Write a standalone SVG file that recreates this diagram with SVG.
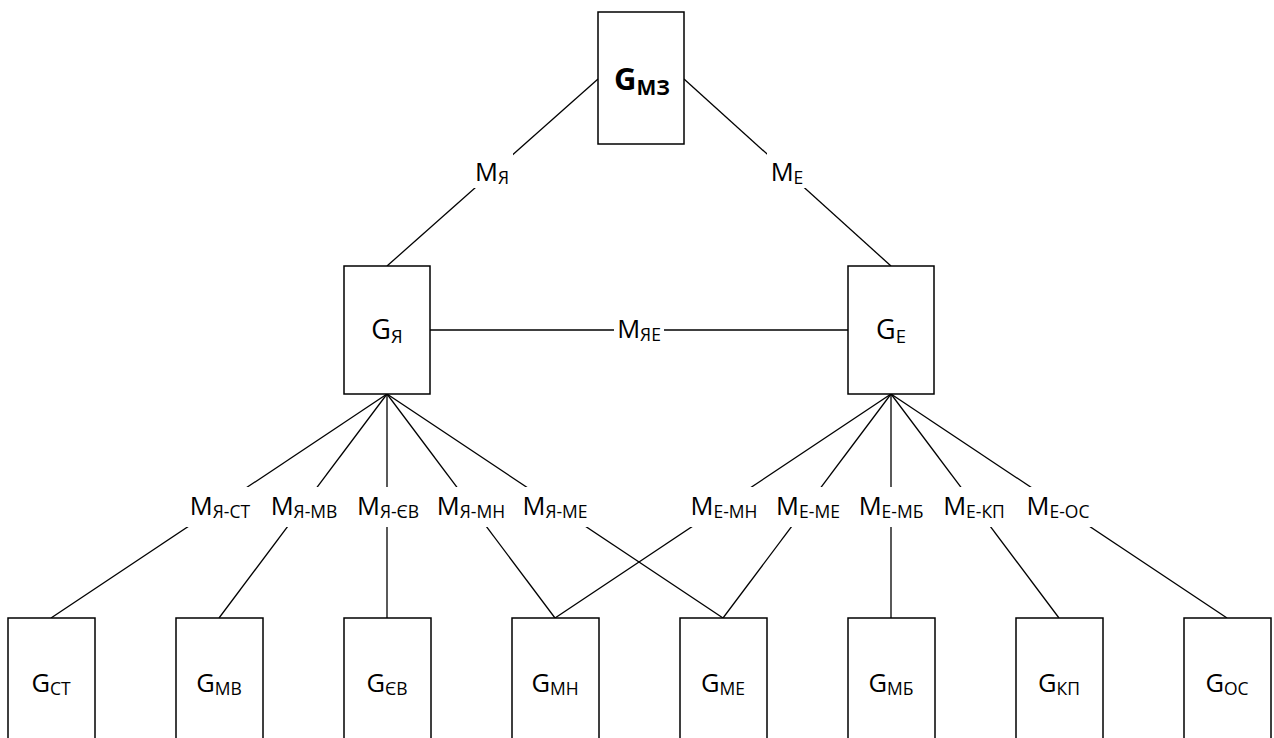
<svg xmlns="http://www.w3.org/2000/svg" width="1274" height="738" viewBox="0 0 1274 738">
  <style>
    .box { fill: #fff; stroke: #000; stroke-width: 1.5; }
    .edge { stroke: #000; stroke-width: 1.3; fill: none; }
    .gap { fill: #fff; }
    text { font-family: "Open Sans", "Noto Sans", "DejaVu Sans", sans-serif; fill: #000; text-anchor: middle; }
    .lbl { font-size: 25.5px; }
    .sub { font-size: 17.5px; }
    .mid { font-size: 27px; }
    .midsub { font-size: 18.5px; }
    .top { font-size: 31px; font-weight: bold; }
    .topsub { font-size: 21px; font-weight: bold; }
  </style>
  <rect width="1274" height="738" fill="#fff"/>

  <!-- connectors with their labels -->
  <g id="connectors">
    <line class="edge" x1="598" y1="79" x2="387" y2="266"/>
    <line class="edge" x1="684" y1="79" x2="891" y2="266"/>
    <line class="edge" x1="430" y1="330" x2="848" y2="330"/>
    <!-- fan from G_Я -->
    <line class="edge" x1="387" y1="394" x2="51" y2="618"/>
    <line class="edge" x1="387" y1="394" x2="219" y2="618"/>
    <line class="edge" x1="387" y1="394" x2="387" y2="618"/>
    <line class="edge" x1="387" y1="394" x2="555" y2="618"/>
    <line class="edge" x1="387" y1="394" x2="723" y2="618"/>
    <!-- fan from G_Е -->
    <line class="edge" x1="891" y1="394" x2="555" y2="618"/>
    <line class="edge" x1="891" y1="394" x2="723" y2="618"/>
    <line class="edge" x1="891" y1="394" x2="891" y2="618"/>
    <line class="edge" x1="891" y1="394" x2="1059" y2="618"/>
    <line class="edge" x1="891" y1="394" x2="1227" y2="618"/>

    <!-- label backgrounds -->
    <rect class="gap" x="473" y="151" width="40" height="37"/>
    <rect class="gap" x="767" y="151" width="40" height="37"/>
    <rect class="gap" x="614" y="318" width="50" height="24"/>
    <rect class="gap" x="183" y="487" width="75" height="40"/>
    <rect class="gap" x="266" y="487" width="75" height="40"/>
    <rect class="gap" x="350" y="487" width="75" height="40"/>
    <rect class="gap" x="433" y="487" width="75" height="40"/>
    <rect class="gap" x="516" y="487" width="75" height="40"/>
    <rect class="gap" x="687" y="487" width="75" height="40"/>
    <rect class="gap" x="770" y="487" width="75" height="40"/>
    <rect class="gap" x="853" y="487" width="75" height="40"/>
    <rect class="gap" x="936" y="487" width="75" height="40"/>
    <rect class="gap" x="1020" y="487" width="75" height="40"/>

    <text class="lbl" x="492" y="181">M<tspan class="sub" dy="3">Я</tspan></text>
    <text class="lbl" x="787" y="181">M<tspan class="sub" dy="3">Е</tspan></text>
    <text class="lbl" x="639" y="338">M<tspan class="sub" dy="3">ЯЕ</tspan></text>

    <text class="lbl" x="220" y="515">M<tspan class="sub" dy="3">Я-СТ</tspan></text>
    <text class="lbl" x="304" y="515">M<tspan class="sub" dy="3">Я-МВ</tspan></text>
    <text class="lbl" x="388" y="515">M<tspan class="sub" dy="3">Я-ЄВ</tspan></text>
    <text class="lbl" x="471" y="515">M<tspan class="sub" dy="3">Я-МН</tspan></text>
    <text class="lbl" x="555" y="515">M<tspan class="sub" dy="3">Я-МЕ</tspan></text>

    <text class="lbl" x="724" y="515">M<tspan class="sub" dy="3">Е-МН</tspan></text>
    <text class="lbl" x="808" y="515">M<tspan class="sub" dy="3">Е-МЕ</tspan></text>
    <text class="lbl" x="891" y="515">M<tspan class="sub" dy="3">Е-МБ</tspan></text>
    <text class="lbl" x="974" y="515">M<tspan class="sub" dy="3">Е-КП</tspan></text>
    <text class="lbl" x="1058" y="515">M<tspan class="sub" dy="3">Е-ОС</tspan></text>
  </g>

  <!-- top node -->
  <g id="node-mz">
    <rect class="box" x="598" y="12" width="86" height="132"/>
    <text class="top" x="642" y="90">G<tspan class="topsub" dy="5">МЗ</tspan></text>
  </g>

  <!-- middle nodes -->
  <g id="node-ya">
    <rect class="box" x="344" y="266" width="86" height="128"/>
    <text class="mid" x="387" y="339">G<tspan class="midsub" dy="4">Я</tspan></text>
  </g>
  <g id="node-e">
    <rect class="box" x="848" y="266" width="86" height="128"/>
    <text class="mid" x="891" y="339">G<tspan class="midsub" dy="4">Е</tspan></text>
  </g>

  <!-- bottom nodes -->
  <g id="node-st">
    <rect class="box" x="8" y="618" width="87" height="130"/>
    <text class="lbl" x="51" y="692">G<tspan class="sub" dy="3">СТ</tspan></text>
  </g>
  <g id="node-mv">
    <rect class="box" x="176" y="618" width="87" height="130"/>
    <text class="lbl" x="219" y="692">G<tspan class="sub" dy="3">МВ</tspan></text>
  </g>
  <g id="node-yev">
    <rect class="box" x="344" y="618" width="87" height="130"/>
    <text class="lbl" x="387" y="692">G<tspan class="sub" dy="3">ЄВ</tspan></text>
  </g>
  <g id="node-mn">
    <rect class="box" x="512" y="618" width="87" height="130"/>
    <text class="lbl" x="555" y="692">G<tspan class="sub" dy="3">МН</tspan></text>
  </g>
  <g id="node-me">
    <rect class="box" x="680" y="618" width="87" height="130"/>
    <text class="lbl" x="723" y="692">G<tspan class="sub" dy="3">МЕ</tspan></text>
  </g>
  <g id="node-mb">
    <rect class="box" x="848" y="618" width="87" height="130"/>
    <text class="lbl" x="891" y="692">G<tspan class="sub" dy="3">МБ</tspan></text>
  </g>
  <g id="node-kp">
    <rect class="box" x="1016" y="618" width="87" height="130"/>
    <text class="lbl" x="1059" y="692">G<tspan class="sub" dy="3">КП</tspan></text>
  </g>
  <g id="node-os">
    <rect class="box" x="1184" y="618" width="87" height="130"/>
    <text class="lbl" x="1227" y="692">G<tspan class="sub" dy="3">ОС</tspan></text>
  </g>
</svg>
